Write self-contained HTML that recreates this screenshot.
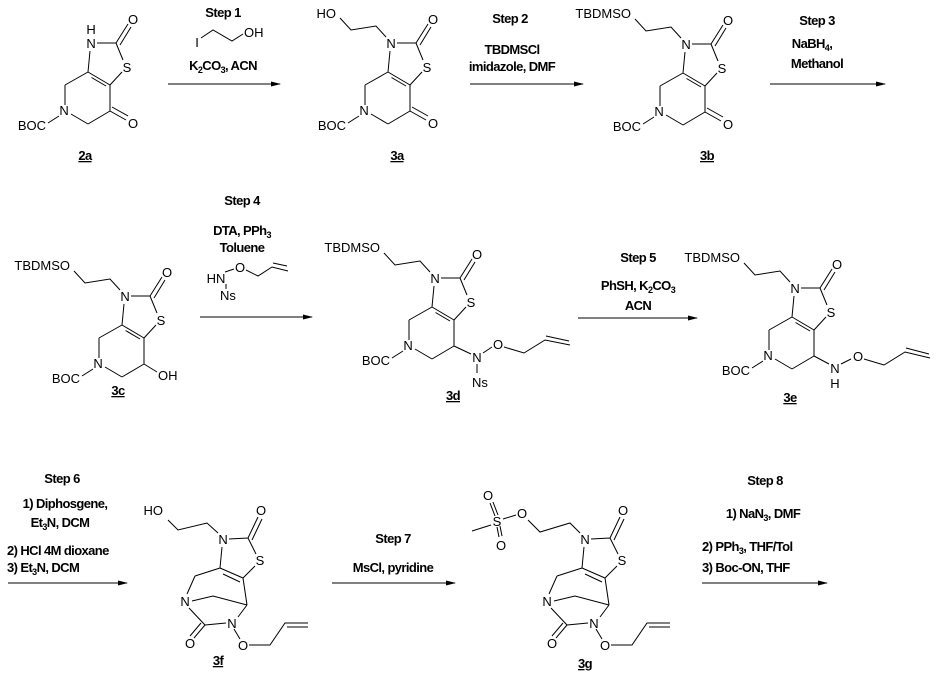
<!DOCTYPE html>
<html><head><meta charset="utf-8"><style>
html,body{margin:0;padding:0;background:#fff;}
svg{display:block;}
.a{font-family:"Liberation Sans",Arial,sans-serif;font-size:13px;fill:#000;}
.b{font-family:"Liberation Sans",Arial,sans-serif;font-size:13px;font-weight:bold;fill:#000;letter-spacing:-0.6px;}
.s{font-size:9px;}
line,path,polyline{stroke:#000;stroke-width:1;fill:none;}
</style></head><body>
<svg width="944" height="683" viewBox="0 0 944 683" xmlns="http://www.w3.org/2000/svg">
<defs>
<marker id="ar" markerWidth="10" markerHeight="6" refX="9" refY="3" orient="auto" markerUnits="userSpaceOnUse"><path d="M0,0.5 L10,3 L0,5.5 Z" style="fill:#000;stroke:none"/></marker>
</defs>

<!-- ===== 2a ===== -->
<g transform="translate(88,72)">
<path d="M0,0 L22,13 M3.5,5.5 L18,14 M22,13 L22,39 M22,39 L0,52 M0,52 L-17,42 M-23,33 L-23,13 M-23,13 L0,0 M0,0 L2,-21 M9,-29 L28,-29 M28,-29 L40,-48 M32,-27 L43,-45 M28,-29 L35,-12 M34,0 L22,13 M-29,44 L-40,51 M22,39 L38,48 M24,35 L40,44"/>
<text class="a" x="3" y="-24" text-anchor="middle">N</text>
<text class="a" x="3" y="-38" text-anchor="middle">H</text>
<text class="a" x="39" y="0" text-anchor="middle">S</text>
<text class="a" x="45" y="-48" text-anchor="middle">O</text>
<text class="a" x="-24" y="43" text-anchor="middle">N</text>
<text class="a" x="-42" y="58" text-anchor="end">BOC</text>
<text class="a" x="45" y="56" text-anchor="middle">O</text>
</g>
<text class="b" x="85" y="160" text-anchor="middle" text-decoration="underline">2a</text>

<!-- Step 1 -->
<text class="b" x="223" y="17" text-anchor="middle">Step 1</text>
<text class="a" x="197" y="47" text-anchor="middle">I</text>
<path d="M201,38 L213,30 L232,41 L243,34"/>
<text class="a" x="244" y="37">OH</text>
<text class="b" x="223" y="70" text-anchor="middle">K<tspan class="s" dy="3">2</tspan><tspan dy="-3">CO</tspan><tspan class="s" dy="3">3</tspan><tspan dy="-3">, ACN</tspan></text>
<line x1="168" y1="84" x2="280" y2="84" marker-end="url(#ar)"/>

<!-- ===== 3a ===== -->
<g transform="translate(388,72)">
<path d="M0,0 L22,13 M3.5,5.5 L18,14 M22,13 L22,39 M22,39 L0,52 M0,52 L-17,42 M-23,33 L-23,13 M-23,13 L0,0 M0,0 L2,-21 M9,-29 L28,-29 M28,-29 L40,-48 M32,-27 L43,-45 M28,-29 L35,-12 M34,0 L22,13 M-29,44 L-40,51 M22,39 L38,48 M24,35 L40,44"/>
<path d="M-2,-35 L-12,-46 L-37,-42 L-48,-54"/>
<text class="a" x="3" y="-24" text-anchor="middle">N</text>
<text class="a" x="39" y="0" text-anchor="middle">S</text>
<text class="a" x="45" y="-48" text-anchor="middle">O</text>
<text class="a" x="-24" y="43" text-anchor="middle">N</text>
<text class="a" x="-42" y="58" text-anchor="end">BOC</text>
<text class="a" x="45" y="56" text-anchor="middle">O</text>
<text class="a" x="-52" y="-54" text-anchor="end">HO</text>
</g>
<text class="b" x="397" y="160" text-anchor="middle" text-decoration="underline">3a</text>

<!-- Step 2 -->
<text class="b" x="510" y="23" text-anchor="middle">Step 2</text>
<text class="b" x="512" y="54" text-anchor="middle">TBDMSCl</text>
<text class="b" x="512" y="71" text-anchor="middle">imidazole, DMF</text>
<line x1="470" y1="84" x2="583" y2="84" marker-end="url(#ar)"/>

<!-- ===== 3b ===== -->
<g transform="translate(683,73)">
<path d="M0,0 L22,13 M3.5,5.5 L18,14 M22,13 L22,39 M22,39 L0,52 M0,52 L-17,42 M-23,33 L-23,13 M-23,13 L0,0 M0,0 L2,-21 M9,-29 L28,-29 M28,-29 L40,-48 M32,-27 L43,-45 M28,-29 L35,-12 M34,0 L22,13 M-29,44 L-40,51 M22,39 L38,48 M24,35 L40,44"/>
<path d="M-2,-35 L-12,-46 L-37,-42 L-48,-54"/>
<text class="a" x="3" y="-24" text-anchor="middle">N</text>
<text class="a" x="39" y="0" text-anchor="middle">S</text>
<text class="a" x="45" y="-48" text-anchor="middle">O</text>
<text class="a" x="-24" y="43" text-anchor="middle">N</text>
<text class="a" x="-42" y="58" text-anchor="end">BOC</text>
<text class="a" x="45" y="56" text-anchor="middle">O</text>
<text class="a" x="-52" y="-55" text-anchor="end">TBDMSO</text>
</g>
<text class="b" x="707" y="160" text-anchor="middle" text-decoration="underline">3b</text>

<!-- Step 3 -->
<text class="b" x="817" y="25" text-anchor="middle">Step 3</text>
<text class="b" x="812" y="48" text-anchor="middle">NaBH<tspan class="s" dy="3">4</tspan><tspan dy="-3">,</tspan></text>
<text class="b" x="817" y="68" text-anchor="middle">Methanol</text>
<line x1="770" y1="84" x2="885" y2="84" marker-end="url(#ar)"/>

<!-- ===== 3c ===== -->
<g transform="translate(122,325)">
<path d="M0,0 L22,13 M3.5,5.5 L18,14 M22,13 L22,39 M22,39 L0,52 M0,52 L-17,42 M-23,33 L-23,13 M-23,13 L0,0 M0,0 L2,-21 M9,-29 L28,-29 M28,-29 L40,-48 M32,-27 L43,-45 M28,-29 L35,-12 M34,0 L22,13 M-29,44 L-40,51 M22,39 L35,47"/>
<path d="M-2,-35 L-12,-46 L-37,-42 L-48,-54"/>
<text class="a" x="3" y="-24" text-anchor="middle">N</text>
<text class="a" x="39" y="0" text-anchor="middle">S</text>
<text class="a" x="45" y="-48" text-anchor="middle">O</text>
<text class="a" x="-24" y="43" text-anchor="middle">N</text>
<text class="a" x="-42" y="58" text-anchor="end">BOC</text>
<text class="a" x="36" y="55">OH</text>
<text class="a" x="-52" y="-55" text-anchor="end">TBDMSO</text>
</g>
<text class="b" x="118" y="395" text-anchor="middle" text-decoration="underline">3c</text>

<!-- Step 4 -->
<text class="b" x="242" y="205" text-anchor="middle">Step 4</text>
<text class="b" x="242" y="235" text-anchor="middle">DTA, PPh<tspan class="s" dy="3">3</tspan></text>
<text class="b" x="242" y="252" text-anchor="middle">Toluene</text>
<text class="a" x="216" y="283" text-anchor="middle">HN</text>
<text class="a" x="228" y="300" text-anchor="middle">Ns</text>
<text class="a" x="240" y="272" text-anchor="middle">O</text>
<path d="M225,272 L234,269 M246,270 L258,276 L272,267 L288,271 M273,263 L287,266 M226,284 L226,289"/>
<line x1="200" y1="317" x2="312" y2="317" marker-end="url(#ar)"/>

<!-- ===== 3d ===== -->
<g transform="translate(432,307)">
<path d="M0,0 L22,13 M3.5,5.5 L18,14 M22,13 L22,39 M22,39 L0,52 M0,52 L-17,42 M-23,33 L-23,13 M-23,13 L0,0 M0,0 L2,-21 M9,-29 L28,-29 M28,-29 L40,-48 M32,-27 L43,-45 M28,-29 L35,-12 M34,0 L22,13 M-29,44 L-40,51 M22,39 L39,47"/>
<path d="M-2,-35 L-12,-46 L-37,-42 L-48,-54"/>
<path d="M45,57 L45,66 M51,46 L60,40 M72,40 L92,46 L113,33 L138,38 M114,29 L137,34"/>
<text class="a" x="3" y="-24" text-anchor="middle">N</text>
<text class="a" x="39" y="0" text-anchor="middle">S</text>
<text class="a" x="45" y="-48" text-anchor="middle">O</text>
<text class="a" x="-24" y="43" text-anchor="middle">N</text>
<text class="a" x="-42" y="58" text-anchor="end">BOC</text>
<text class="a" x="45" y="55" text-anchor="middle">N</text>
<text class="a" x="48" y="80" text-anchor="middle">Ns</text>
<text class="a" x="66" y="42" text-anchor="middle">O</text>
<text class="a" x="-52" y="-55" text-anchor="end">TBDMSO</text>
</g>
<text class="b" x="453" y="400" text-anchor="middle" text-decoration="underline">3d</text>

<!-- Step 5 -->
<text class="b" x="638" y="262" text-anchor="middle">Step 5</text>
<text class="b" x="638" y="290" text-anchor="middle">PhSH, K<tspan class="s" dy="3">2</tspan><tspan dy="-3">CO</tspan><tspan class="s" dy="3">3</tspan></text>
<text class="b" x="638" y="310" text-anchor="middle">ACN</text>
<line x1="578" y1="318" x2="697" y2="318" marker-end="url(#ar)"/>

<!-- ===== 3e ===== -->
<g transform="translate(792,317)">
<path d="M0,0 L22,13 M3.5,5.5 L18,14 M22,13 L22,39 M22,39 L0,52 M0,52 L-17,42 M-23,33 L-23,13 M-23,13 L0,0 M0,0 L2,-21 M9,-29 L28,-29 M28,-29 L40,-48 M32,-27 L43,-45 M28,-29 L35,-12 M34,0 L22,13 M-29,44 L-40,51 M22,39 L37,47"/>
<path d="M-2,-35 L-12,-46 L-37,-42 L-48,-54"/>
<path d="M49,47 L59,42 M72,42 L92,48 L113,35 L138,41 M114,31 L137,37"/>
<text class="a" x="3" y="-24" text-anchor="middle">N</text>
<text class="a" x="39" y="0" text-anchor="middle">S</text>
<text class="a" x="45" y="-48" text-anchor="middle">O</text>
<text class="a" x="-24" y="43" text-anchor="middle">N</text>
<text class="a" x="-42" y="58" text-anchor="end">BOC</text>
<text class="a" x="43" y="56" text-anchor="middle">N</text>
<text class="a" x="43" y="71" text-anchor="middle">H</text>
<text class="a" x="66" y="44" text-anchor="middle">O</text>
<text class="a" x="-52" y="-55" text-anchor="end">TBDMSO</text>
</g>
<text class="b" x="790" y="402" text-anchor="middle" text-decoration="underline">3e</text>

<!-- Step 6 -->
<text class="b" x="62" y="483" text-anchor="middle">Step 6</text>
<text class="b" x="65" y="508" text-anchor="middle">1) Diphosgene,</text>
<text class="b" x="60" y="527" text-anchor="middle">Et<tspan class="s" dy="3">3</tspan><tspan dy="-3">N, DCM</tspan></text>
<text class="b" x="7" y="555">2) HCl 4M dioxane</text>
<text class="b" x="7" y="572">3) Et<tspan class="s" dy="3">3</tspan><tspan dy="-3">N, DCM</tspan></text>
<line x1="8" y1="583" x2="127" y2="583" marker-end="url(#ar)"/>

<!-- ===== 3f ===== -->
<g transform="translate(220,568)">
<path d="M0,0 L23,10 M3,6 L20,14 M23,10 L27,37 M0,0 L-25,8 M-25,8 L-33,26 M-28,33 L-7,28 L27,37 M-31,40 L-15,57 M-15,57 L6,55 M-15,57 L-26,70 M-19,55 L-30,68 M18,49 L27,37 M14,61 L20,71 M29,77 L50,77 L65,55 L88,55 M67,59 L88,59 M0,0 L2,-21 M9,-29 L28,-30 M28,-30 L38,-51 M32,-28 L42,-49 M28,-30 L36,-14 M35,-2 L23,10"/>
<path d="M-2,-35 L-13,-45 L-42,-38 L-52,-48"/>
<text class="a" x="3" y="-24" text-anchor="middle">N</text>
<text class="a" x="40" y="-3" text-anchor="middle">S</text>
<text class="a" x="41" y="-53" text-anchor="middle">O</text>
<text class="a" x="-35" y="38" text-anchor="middle">N</text>
<text class="a" x="12" y="60" text-anchor="middle">N</text>
<text class="a" x="-30" y="80" text-anchor="middle">O</text>
<text class="a" x="23" y="82" text-anchor="middle">O</text>
<text class="a" x="-57" y="-53" text-anchor="end">HO</text>
</g>
<text class="b" x="218" y="665" text-anchor="middle" text-decoration="underline">3f</text>

<!-- Step 7 -->
<text class="b" x="393" y="543" text-anchor="middle">Step 7</text>
<text class="b" x="393" y="572" text-anchor="middle">MsCl, pyridine</text>
<line x1="332" y1="583" x2="455" y2="583" marker-end="url(#ar)"/>

<!-- ===== 3g ===== -->
<g transform="translate(582,568)">
<path d="M0,0 L23,10 M3,6 L20,14 M23,10 L27,37 M0,0 L-25,8 M-25,8 L-33,26 M-28,33 L-7,28 L27,37 M-31,40 L-15,57 M-15,57 L6,55 M-15,57 L-26,70 M-19,55 L-30,68 M18,49 L27,37 M14,61 L20,71 M29,77 L50,77 L65,55 L88,55 M67,59 L88,59 M0,0 L2,-21 M9,-29 L28,-30 M28,-30 L38,-51 M32,-28 L42,-49 M28,-30 L36,-14 M35,-2 L23,10"/>
<path d="M-2,-35 L-12,-45 L-42,-36 L-54,-48"/>
<path d="M-66,-53 L-79,-49 M-91,-43 L-110,-37 M-87,-52 L-92,-65 M-84,-53 L-89,-66 M-85,-41 L-83,-31 M-82,-42 L-80,-32"/>
<text class="a" x="3" y="-24" text-anchor="middle">N</text>
<text class="a" x="40" y="-3" text-anchor="middle">S</text>
<text class="a" x="41" y="-53" text-anchor="middle">O</text>
<text class="a" x="-35" y="38" text-anchor="middle">N</text>
<text class="a" x="12" y="60" text-anchor="middle">N</text>
<text class="a" x="-30" y="80" text-anchor="middle">O</text>
<text class="a" x="23" y="82" text-anchor="middle">O</text>
<text class="a" x="-60" y="-50" text-anchor="middle">O</text>
<text class="a" x="-85" y="-42" text-anchor="middle">S</text>
<text class="a" x="-94" y="-68" text-anchor="middle">O</text>
<text class="a" x="-81" y="-18" text-anchor="middle">O</text>
</g>
<text class="b" x="585" y="668" text-anchor="middle" text-decoration="underline">3g</text>

<!-- Step 8 -->
<text class="b" x="765" y="485" text-anchor="middle">Step 8</text>
<text class="b" x="763" y="518" text-anchor="middle">1) NaN<tspan class="s" dy="3">3</tspan><tspan dy="-3">, DMF</tspan></text>
<text class="b" x="702" y="551">2) PPh<tspan class="s" dy="3">3</tspan><tspan dy="-3">, THF/Tol</tspan></text>
<text class="b" x="702" y="572">3) Boc-ON, THF</text>
<line x1="702" y1="583" x2="827" y2="583" marker-end="url(#ar)"/>
</svg>
</body></html>
